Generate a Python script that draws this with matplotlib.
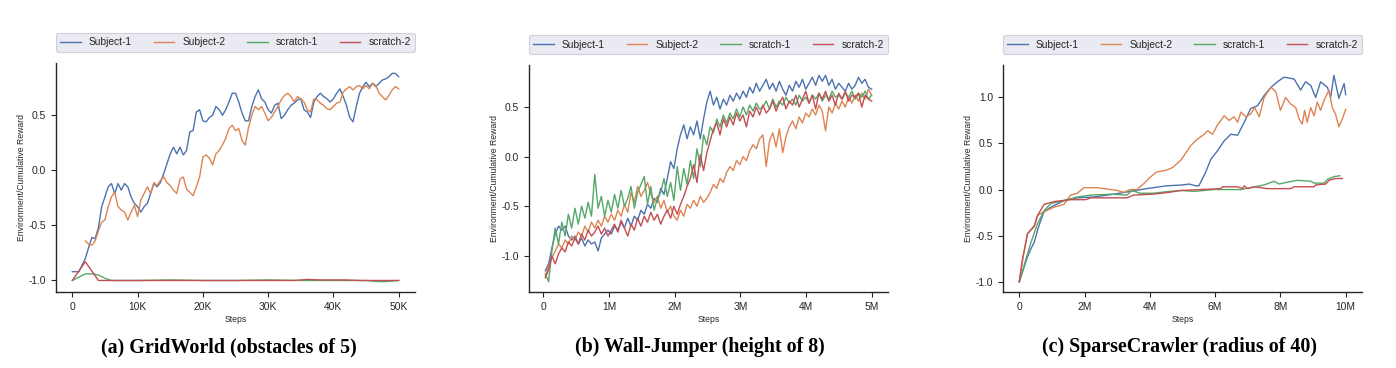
import numpy as np
import matplotlib
matplotlib.use("Agg")
import matplotlib.pyplot as plt
from matplotlib.ticker import FuncFormatter, MultipleLocator

plt.rcParams['font.family'] = ['Liberation Sans', 'DejaVu Sans']
plt.rcParams['text.color'] = '#262626'
plt.rcParams['axes.labelcolor'] = '#262626'
plt.rcParams['xtick.color'] = '#262626'
plt.rcParams['ytick.color'] = '#262626'
plt.rcParams['axes.unicode_minus'] = False

labels = ['Subject-1', 'Subject-2', 'scratch-1', 'scratch-2']
colors = ['#4C72B0', '#DD8452', '#55A868', '#C44E52']

# ---- (a) GridWorld, steps in K ----
gw_sub1_x = np.arange(0, 50.5, 0.5)
gw_sub1 = [-0.92, -0.92, -0.92, -0.86, -0.80, -0.70, -0.61, -0.62, -0.52, -0.33,
           -0.24, -0.15, -0.12, -0.21, -0.12, -0.18, -0.12, -0.15, -0.24, -0.30,
           -0.33, -0.38, -0.33, -0.30, -0.21, -0.12, -0.15, -0.11, -0.03, 0.06,
           0.15, 0.21, 0.15, 0.21, 0.14, 0.18, 0.35, 0.36, 0.53, 0.55,
           0.45, 0.44, 0.48, 0.50, 0.58, 0.55, 0.50, 0.55, 0.62, 0.70,
           0.70, 0.62, 0.52, 0.45, 0.45, 0.58, 0.67, 0.73, 0.65, 0.62,
           0.55, 0.52, 0.59, 0.61, 0.47, 0.50, 0.55, 0.59, 0.61, 0.64,
           0.65, 0.55, 0.53, 0.48, 0.62, 0.67, 0.70, 0.67, 0.65, 0.62,
           0.65, 0.70, 0.74, 0.67, 0.59, 0.48, 0.44, 0.58, 0.70, 0.76,
           0.80, 0.76, 0.79, 0.76, 0.79, 0.82, 0.83, 0.85, 0.88, 0.88,
           0.85]
gw_sub2_x = np.arange(2, 50.5, 0.5)
gw_sub2 = [-0.64, -0.67, -0.68, -0.64, -0.55, -0.47, -0.45, -0.33, -0.24, -0.20,
           -0.33, -0.36, -0.38, -0.45, -0.38, -0.32, -0.42, -0.27, -0.21, -0.15,
           -0.21, -0.11, -0.14, -0.09, -0.06, -0.11, -0.14, -0.18, -0.21, -0.08,
           -0.06, -0.17, -0.20, -0.23, -0.15, -0.06, 0.12, 0.14, 0.11, 0.05,
           0.15, 0.18, 0.23, 0.29, 0.38, 0.41, 0.36, 0.38, 0.27, 0.23,
           0.39, 0.50, 0.58, 0.55, 0.58, 0.52, 0.45, 0.48, 0.53, 0.58,
           0.64, 0.68, 0.70, 0.67, 0.62, 0.67, 0.65, 0.62, 0.55, 0.53,
           0.65, 0.64, 0.61, 0.59, 0.56, 0.55, 0.58, 0.61, 0.62, 0.71,
           0.74, 0.76, 0.73, 0.76, 0.77, 0.74, 0.77, 0.74, 0.79, 0.77,
           0.70, 0.67, 0.64, 0.68, 0.73, 0.76,
           0.74]
gw_scr1_x = [0, 2, 3, 4, 5, 6, 10, 15, 20, 25, 30, 35, 40, 45, 47, 48, 50]
gw_scr1 = [-1.0, -0.94, -0.94, -0.95, -0.98, -1.0, -1.0, -0.995, -1.0, -1.0,
           -0.995, -1.0, -1.0, -1.0, -1.01, -1.01, -1.0]
gw_scr2_x = [0, 2, 4, 10, 20, 30, 34, 36, 38, 42, 44, 50]
gw_scr2 = [-1.0, -0.83, -1.0, -1.0, -1.0, -1.0, -1.0, -0.99, -0.995, -0.995, -1.0, -1.0]

# ---- (b) Wall-Jumper, steps in M ----
wj_x = np.linspace(0.03, 5.0, 100)
wj_sub1 = [-1.15, -1.08, -0.92, -0.78, -0.70, -0.74, -0.70, -0.80, -0.84, -0.80,
           -0.88, -0.82, -0.90, -0.84, -0.88, -0.86, -0.95, -0.82, -0.78, -0.74,
           -0.78, -0.70, -0.74, -0.66, -0.72, -0.62, -0.70, -0.60, -0.64, -0.54,
           -0.58, -0.48, -0.52, -0.42, -0.46, -0.32, -0.38, -0.22, -0.05, -0.12,
           0.08, 0.22, 0.32, 0.18, 0.30, 0.22, 0.36, 0.18, 0.38, 0.55,
           0.66, 0.52, 0.60, 0.48, 0.58, 0.52, 0.62, 0.56, 0.64, 0.58,
           0.66, 0.60, 0.70, 0.64, 0.74, 0.66, 0.72, 0.78, 0.68, 0.74,
           0.66, 0.76, 0.68, 0.62, 0.72, 0.66, 0.76, 0.70, 0.78, 0.68,
           0.74, 0.80, 0.72, 0.82, 0.76, 0.82, 0.72, 0.78, 0.68, 0.74,
           0.70, 0.66, 0.74, 0.68, 0.72, 0.80, 0.74, 0.78, 0.70, 0.68]
wj_sub2 = [-1.20, -1.10, -1.02, -0.95, -0.88, -0.92, -0.84, -0.88, -0.80, -0.84,
           -0.76, -0.80, -0.70, -0.76, -0.66, -0.72, -0.64, -0.70, -0.60, -0.66,
           -0.58, -0.64, -0.54, -0.60, -0.48, -0.56, -0.36, -0.46, -0.30, -0.40,
           -0.34, -0.26, -0.38, -0.46, -0.40, -0.52, -0.44, -0.56, -0.50, -0.60,
           -0.64, -0.54, -0.60, -0.48, -0.52, -0.44, -0.50, -0.40, -0.46, -0.42,
           -0.36, -0.28, -0.32, -0.22, -0.26, -0.16, -0.10, -0.14, -0.04, -0.08,
           0.00, -0.04, 0.06, 0.12, 0.08, 0.18, 0.22, -0.10, 0.16, 0.24,
           0.10, 0.28, 0.04, 0.20, 0.30, 0.36, 0.28, 0.40, 0.34, 0.44,
           0.40, 0.48, 0.42, 0.52, 0.46, 0.26, 0.50, 0.44, 0.54, 0.48,
           0.56, 0.50, 0.60, 0.54, 0.62, 0.56, 0.64, 0.58, 0.68, 0.62]
wj_scr1 = [-1.18, -1.26, -0.95, -0.72, -0.88, -0.66, -0.80, -0.58, -0.72, -0.52,
           -0.68, -0.50, -0.62, -0.46, -0.60, -0.18, -0.52, -0.40, -0.60, -0.44,
           -0.56, -0.38, -0.52, -0.34, -0.50, -0.42, -0.30, -0.52, -0.36, -0.28,
           -0.20, -0.48, -0.30, -0.54, -0.42, -0.36, -0.22, -0.40, -0.26, -0.44,
           -0.10, -0.34, -0.12, -0.28, -0.04, -0.22, 0.08, -0.10, 0.22, 0.12,
           0.30, 0.24, 0.38, 0.30, 0.42, 0.34, 0.44, 0.38, 0.48, 0.40,
           0.50, 0.42, 0.52, 0.46, 0.54, 0.48, 0.50, 0.56, 0.48, 0.58,
           0.50, 0.56, 0.52, 0.60, 0.54, 0.58, 0.52, 0.62, 0.56, 0.60,
           0.54, 0.62, 0.58, 0.64, 0.56, 0.62, 0.58, 0.66, 0.60, 0.62,
           0.58, 0.64, 0.60, 0.66, 0.58, 0.64, 0.60, 0.66, 0.58, 0.62]
wj_scr2 = [-1.22, -1.14, -1.00, -1.08, -0.98, -0.92, -0.96, -0.86, -0.90, -0.82,
           -0.88, -0.78, -0.84, -0.74, -0.80, -0.76, -0.70, -0.78, -0.72, -0.80,
           -0.74, -0.68, -0.76, -0.64, -0.72, -0.80, -0.68, -0.74, -0.62, -0.70,
           -0.60, -0.66, -0.56, -0.64, -0.58, -0.68, -0.60, -0.54, -0.62, -0.50,
           -0.58, -0.48, -0.40, -0.30, -0.22, -0.08, -0.26, 0.02, -0.14, 0.04,
           0.16, 0.28, 0.34, 0.22, 0.38, 0.30, 0.40, 0.32, 0.44, 0.36,
           0.42, 0.30, 0.46, 0.40, 0.50, 0.42, 0.52, 0.44, 0.48, 0.56,
           0.46, 0.54, 0.60, 0.48, 0.56, 0.52, 0.62, 0.50, 0.58, 0.66,
           0.54, 0.62, 0.48, 0.64, 0.58, 0.66, 0.56, 0.62, 0.52, 0.64,
           0.58, 0.66, 0.56, 0.62, 0.60, 0.64, 0.50, 0.62, 0.58, 0.56]

# ---- (c) SparseCrawler, steps in M ----
sc_sub1_x = [0, 0.25, 0.36, 0.46, 0.56, 0.66, 0.76, 0.97, 1.37, 1.78, 2.29, 2.9, 3.4,
             3.9, 4.5, 5.0, 5.2, 5.41, 5.5, 5.7, 5.87, 6.07, 6.28, 6.48, 6.69, 6.89,
             7.09, 7.3, 7.5, 7.71, 7.91, 8.11, 8.42, 8.62, 8.77, 8.93, 9.08, 9.23,
             9.44, 9.54, 9.64, 9.79, 9.95, 10.0]
sc_sub1 = [-1.0, -0.73, -0.64, -0.57, -0.44, -0.33, -0.24, -0.19, -0.12, -0.09, -0.08,
           -0.05, -0.02, 0.01, 0.04, 0.05, 0.06, 0.04, 0.04, 0.18, 0.33, 0.42, 0.53,
           0.60, 0.59, 0.73, 0.88, 0.91, 1.02, 1.11, 1.17, 1.22, 1.20, 1.08, 1.17,
           1.13, 1.00, 1.17, 1.11, 1.00, 1.24, 0.99, 1.15, 1.03]
sc_sub2_x = [0, 0.1, 0.25, 0.46, 0.56, 0.76, 1.07, 1.37, 1.57, 1.78, 1.98, 2.39, 3.0,
             3.2, 3.4, 3.6, 3.8, 4.0, 4.2, 4.5, 4.7, 4.95, 5.26, 5.46, 5.67, 5.77,
             5.92, 6.07, 6.28, 6.43, 6.58, 6.69, 6.79, 6.94, 7.09, 7.21, 7.35, 7.5,
             7.71, 7.86, 8.0, 8.16, 8.31, 8.47, 8.57, 8.67, 8.74, 8.82, 8.93, 9.03,
             9.13, 9.23, 9.34, 9.49, 9.59, 9.69, 9.79, 9.9, 10.0]
sc_sub2 = [-1.0, -0.75, -0.48, -0.39, -0.28, -0.24, -0.19, -0.16, -0.06, -0.04, 0.02,
           0.02, -0.01, -0.03, 0.0, 0.0, 0.06, 0.13, 0.19, 0.21, 0.24, 0.32, 0.48,
           0.55, 0.60, 0.64, 0.60, 0.70, 0.80, 0.75, 0.79, 0.73, 0.84, 0.79, 0.82,
           0.89, 0.79, 1.00, 1.11, 1.06, 0.86, 1.00, 0.93, 0.89, 0.77, 0.71, 0.86,
           0.73, 0.89, 0.80, 0.95, 0.86, 0.97, 1.08, 0.89, 0.82, 0.68, 0.77, 0.87]
sc_scr1_x = [0, 0.36, 0.56, 0.76, 0.97, 1.37, 1.78, 2.19, 2.8, 3.3, 3.45, 3.7, 4.1,
             4.6, 4.95, 5.36, 5.97, 6.79, 7.5, 7.81, 7.96, 8.21, 8.52, 8.93, 9.03,
             9.34, 9.44, 9.64, 9.82]
sc_scr1 = [-1.0, -0.57, -0.37, -0.23, -0.15, -0.12, -0.08, -0.06, -0.05, -0.06, -0.01,
           -0.04, -0.04, -0.02, -0.01, -0.02, 0.0, 0.0, 0.05, 0.09, 0.06, 0.08, 0.10,
           0.09, 0.07, 0.07, 0.11, 0.14, 0.15]
sc_scr2_x = [0, 0.1, 0.25, 0.46, 0.56, 0.76, 1.07, 1.57, 2.03, 2.19, 3.3, 3.5, 4.1,
             4.6, 4.95, 6.17, 6.22, 6.69, 6.84, 6.89, 7.0, 7.2, 7.61, 8.31, 8.42,
             9.03, 9.08, 9.39, 9.49, 9.69, 9.9]
sc_scr2 = [-1.0, -0.76, -0.48, -0.40, -0.28, -0.16, -0.13, -0.11, -0.11, -0.09, -0.09,
           -0.06, -0.05, -0.03, -0.01, 0.01, 0.03, 0.03, 0.01, 0.04, 0.01, 0.03, 0.01,
           0.01, 0.03, 0.03, 0.05, 0.06, 0.10, 0.12, 0.12]

captions = ['(a) GridWorld (obstacles of 5)', '(b) Wall-Jumper (height of 8)',
            '(c) SparseCrawler (radius of 40)']


def fmt_k(v, pos):
    return '0' if v == 0 else '%dK' % round(v / 1000)


def fmt_m(v, pos):
    return '0' if v == 0 else '%dM' % round(v / 1e6)


fig = plt.figure(figsize=(13.96, 3.68), dpi=100)
W, H = 1396.0, 368.0
boxes = [(56, 63, 415, 292), (529, 65, 888, 292), (1003, 65, 1362, 292)]
axes = [fig.add_axes([l / W, 1 - b / H, (r - l) / W, (b - t) / H]) for l, t, r, b in boxes]

panels = [
    ([gw_sub1_x, gw_sub2_x, gw_scr1_x, gw_scr2_x], [gw_sub1, gw_sub2, gw_scr1, gw_scr2], 1000, fmt_k, 10000),
    ([wj_x, wj_x, wj_x, wj_x], [wj_sub1, wj_sub2, wj_scr1, wj_scr2], 1e6, fmt_m, 1e6),
    ([sc_sub1_x, sc_sub2_x, sc_scr1_x, sc_scr2_x], [sc_sub1, sc_sub2, sc_scr1, sc_scr2], 1e6, fmt_m, 2e6),
]

for ax, (xs, ys, scale, fmt, step) in zip(axes, panels):
    for x, y, lab, c in zip(xs, ys, labels, colors):
        ax.plot(np.asarray(x) * scale, y, color=c, lw=1.0, label=lab)
    ax.xaxis.set_major_locator(MultipleLocator(step))
    ax.xaxis.set_major_formatter(FuncFormatter(fmt))
    ax.yaxis.set_major_locator(MultipleLocator(0.5))
    ax.tick_params(labelsize=7.4, length=3.5, width=0.8, direction='out')
    for s in ['top', 'right']:
        ax.spines[s].set_visible(False)
    for s in ['left', 'bottom']:
        ax.spines[s].set_linewidth(1.0)
        ax.spines[s].set_color('#262626')
    ax.set_xlabel('Steps', fontsize=6.2, labelpad=2)
    ax.set_ylabel('Environment/Cumulative Reward', fontsize=6.2, labelpad=2)
    leg = ax.legend(loc='lower left', bbox_to_anchor=(0, 1.05, 1, 0.08), mode='expand',
                    ncol=4, fontsize=7.4, borderaxespad=0, frameon=True, fancybox=True,
                    handlelength=2.0)
    leg.get_frame().set_facecolor('#EAEAF2')
    leg.get_frame().set_edgecolor('#D0D0D8')
    leg.get_frame().set_linewidth(0.8)
    leg.get_frame().set_alpha(1.0)

cap_x = [229, 700, 1179]
for cx, txt in zip(cap_x, captions):
    fig.text(cx / W, 1 - 347 / H, txt, ha='center', va='center', fontsize=14.4,
             family=['Liberation Serif', 'DejaVu Serif'], fontweight='bold', color='black')

fig.savefig('out.png', dpi=100)
